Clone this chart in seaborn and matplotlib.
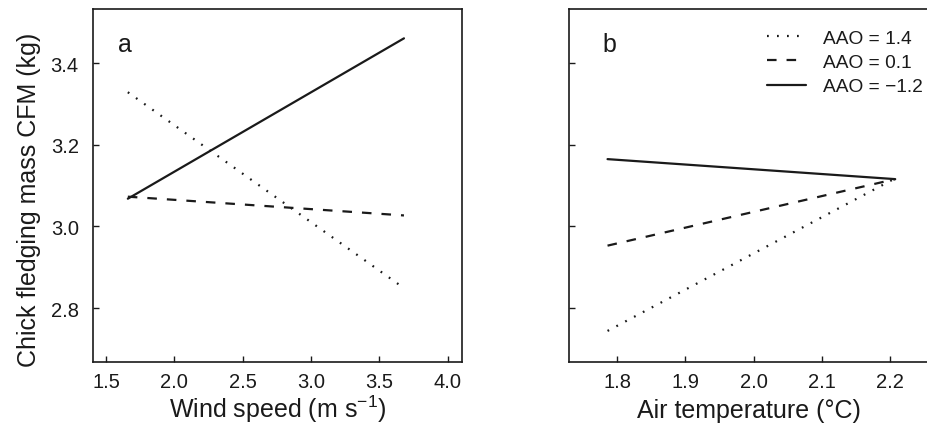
import matplotlib
matplotlib.use("Agg")
import matplotlib.pyplot as plt
import seaborn as sns
import pandas as pd

# Predicted chick fledging mass for three AAO levels
aao_labels = ["AAO = 1.4", "AAO = 0.1", "AAO = \u22121.2"]

wind_speed = [1.66, 3.68]
wind_cfm_aao_high = [3.329, 2.849]
wind_cfm_aao_mid = [3.073, 3.027]
wind_cfm_aao_low = [3.068, 3.461]

air_temp = [1.786, 2.207]
temp_cfm_aao_high = [2.744, 3.118]
temp_cfm_aao_mid = [2.953, 3.116]
temp_cfm_aao_low = [3.165, 3.116]

y_ticks = [2.8, 3.0, 3.2, 3.4]
wind_ticks = [1.5, 2.0, 2.5, 3.0, 3.5, 4.0]
temp_ticks = [1.8, 1.9, 2.0, 2.1, 2.2]


def long_frame(x, series):
    rows = []
    for label, ys in zip(aao_labels, series):
        for xv, yv in zip(x, ys):
            rows.append({"x": xv, "y": yv, "AAO": label})
    return pd.DataFrame(rows)


wind_df = long_frame(wind_speed, [wind_cfm_aao_high, wind_cfm_aao_mid, wind_cfm_aao_low])
temp_df = long_frame(air_temp, [temp_cfm_aao_high, temp_cfm_aao_mid, temp_cfm_aao_low])

sns.set_style("ticks")
plt.rcParams.update({
    "font.family": ["Liberation Sans", "DejaVu Sans"],
    "mathtext.fontset": "custom",
    "mathtext.rm": "Liberation Sans",
    "mathtext.it": "Liberation Sans:italic",
    "axes.edgecolor": "#1a1a1a",
    "axes.linewidth": 1.2,
    "xtick.direction": "in",
    "ytick.direction": "in",
    "xtick.color": "#1a1a1a",
    "ytick.color": "#1a1a1a",
    "text.color": "#1a1a1a",
    "axes.labelcolor": "#1a1a1a",
})

dash_styles = {aao_labels[0]: (0.8, 3.7), aao_labels[1]: (4.3, 4.5), aao_labels[2]: ""}

fig = plt.figure(figsize=(9.27, 4.27), dpi=100)
ax_a = fig.add_axes([0.100, 0.150, 0.398, 0.8267])
ax_b = fig.add_axes([0.6141, 0.150, 0.3870, 0.8267])

for ax, df in ((ax_a, wind_df), (ax_b, temp_df)):
    sns.lineplot(data=df, x="x", y="y", style="AAO", style_order=aao_labels,
                 dashes=dash_styles, color="#1a1a1a", linewidth=1.6,
                 legend=(ax is ax_b), ax=ax)
    ax.set_ylim(2.668, 3.533)
    ax.set_yticks(y_ticks)
    ax.tick_params(axis="both", length=4.5, width=1.0, labelsize=14.5)
    ax.tick_params(axis="x", pad=7)
    ax.tick_params(axis="y", pad=10)
    for side in ("top", "right", "left", "bottom"):
        ax.spines[side].set_visible(True)

ax_a.set_xlim(1.403, 4.102)
ax_a.set_xticks(wind_ticks)
ax_a.set_xticklabels([f"{t:.1f}" for t in wind_ticks])
ax_a.set_yticklabels([f"{t:.1f}" for t in y_ticks])
ax_a.set_xlabel("Wind speed (m s$^{\u22121}$)", fontsize=18)
ax_a.set_ylabel("Chick fledging mass CFM (kg)", fontsize=18)
ax_a.xaxis.label.set_verticalalignment("baseline")
ax_a.xaxis.set_label_coords(0.5, -0.156)
ax_a.yaxis.set_label_coords(-0.140, 0.462)

ax_b.set_xlim(1.730, 2.255)
ax_b.set_xticks(temp_ticks)
ax_b.set_xticklabels([f"{t:.1f}" for t in temp_ticks])
ax_b.set_yticklabels([])
ax_b.set_xlabel("Air temperature (\u00b0C)", fontsize=18)
ax_b.xaxis.label.set_verticalalignment("baseline")
ax_b.xaxis.set_label_coords(0.5, -0.156)
ax_b.set_ylabel("")

ax_a.text(0.069, 0.881, "a", transform=ax_a.transAxes, fontsize=18, va="baseline")
ax_b.text(0.093, 0.881, "b", transform=ax_b.transAxes, fontsize=18, va="baseline")

leg = ax_b.legend(title=None, frameon=False, loc="upper left",
                  bbox_to_anchor=(0.551, 0.9415), fontsize=13.8,
                  handlelength=2.03, handletextpad=0.89, labelspacing=0.35,
                  borderaxespad=0.0, borderpad=0.0)

fig.savefig("out.png", dpi=100)
